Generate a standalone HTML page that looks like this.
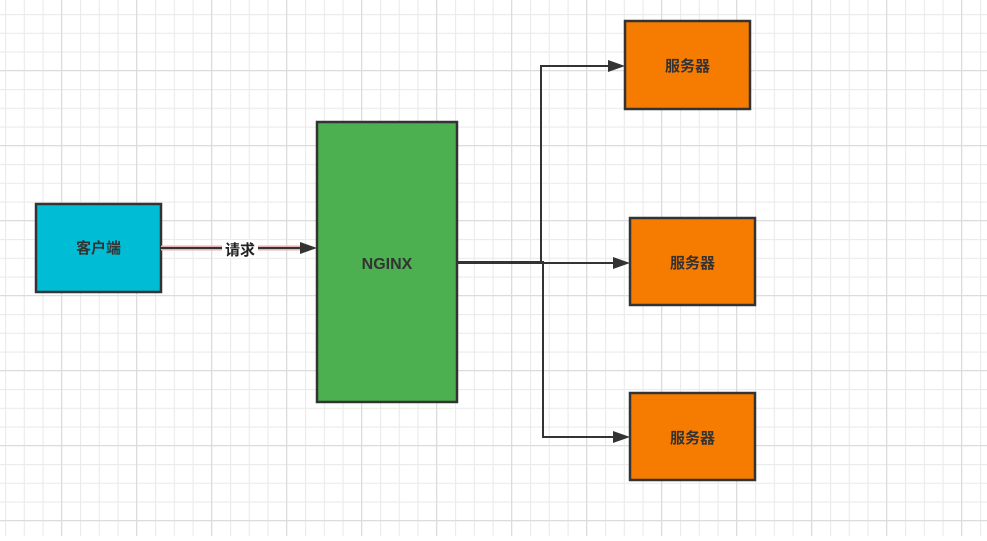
<!DOCTYPE html>
<html><head><meta charset="utf-8"><style>
html,body{margin:0;padding:0;}
body{width:987px;height:536px;overflow:hidden;background:#fff;}
</style></head><body>
<svg width="987" height="536" xmlns="http://www.w3.org/2000/svg">
<defs>
<pattern id="minor" x="5" y="14" width="18.75" height="18.75" patternUnits="userSpaceOnUse">
<path d="M0 0.5H18.75M0.5 0V18.75" stroke="#ebebeb" stroke-width="1.3" fill="none"/>
</pattern>
<pattern id="major" x="61" y="70" width="75" height="75" patternUnits="userSpaceOnUse">
<path d="M0 0.5H75M0.5 0V75" stroke="#dcdcdc" stroke-width="1.3" fill="none"/>
</pattern>
</defs>
<rect width="987" height="536" fill="url(#minor)"/>
<rect width="987" height="536" fill="url(#major)"/>
<g font-family="'Liberation Sans','Noto Sans CJK SC',sans-serif" font-weight="bold" fill="#333" text-anchor="middle">
<rect x="36" y="204" width="125" height="88" fill="#00bcd4" stroke="#333" stroke-width="2.5"/>
<text x="98.5" y="253" font-size="15">客户端</text>
<line x1="161" y1="248" x2="302" y2="248" stroke="#e8b0b0" stroke-width="5"/>
<line x1="161" y1="248" x2="302" y2="248" stroke="#333" stroke-width="2"/>
<polygon points="317,248 300,242 300,254" fill="#333"/>
<rect x="222" y="240" width="36" height="18" fill="#fff"/>
<text x="240" y="255" font-size="15" font-weight="bold" fill="#222">请求</text>
<rect x="317" y="122" width="140" height="280" fill="#4caf50" stroke="#333" stroke-width="2.5"/>
<text x="387" y="269" font-size="16">NGINX</text>
<path d="M457 262H541V66H610" stroke="#333" stroke-width="2" fill="none"/>
<path d="M457 263H614" stroke="#333" stroke-width="2" fill="none"/>
<path d="M541 262H543V437H614" stroke="#333" stroke-width="2" fill="none"/>
<polygon points="625,66 608,60 608,72" fill="#333"/>
<polygon points="630,263 613,257 613,269" fill="#333"/>
<polygon points="630,437 613,431 613,443" fill="#333"/>
<rect x="625" y="21" width="125" height="88" fill="#f57c00" stroke="#333" stroke-width="2.5"/>
<text x="687.5" y="71" font-size="15">服务器</text>
<rect x="630" y="218" width="125" height="87" fill="#f57c00" stroke="#333" stroke-width="2.5"/>
<text x="692.5" y="268" font-size="15">服务器</text>
<rect x="630" y="393" width="125" height="87" fill="#f57c00" stroke="#333" stroke-width="2.5"/>
<text x="692.5" y="443" font-size="15">服务器</text>
</g>
</svg>
</body></html>
